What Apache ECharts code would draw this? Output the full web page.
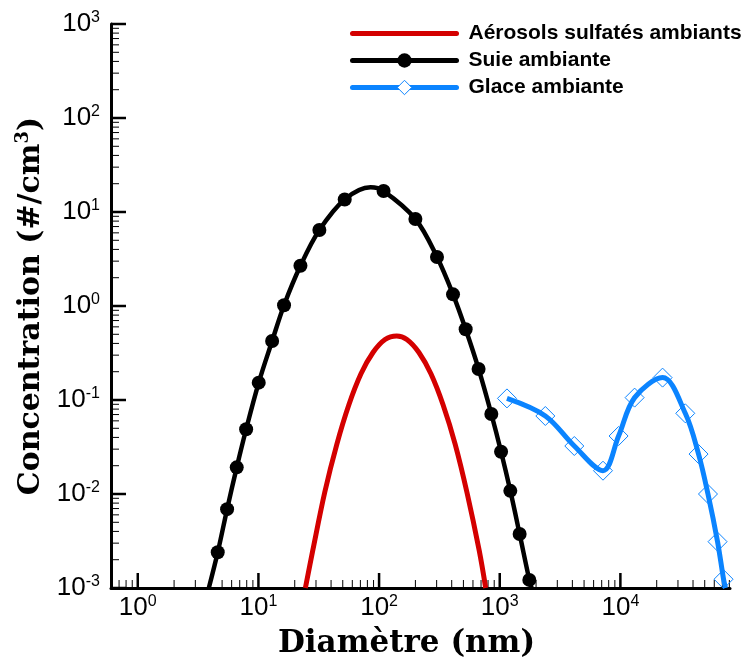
<!DOCTYPE html>
<html><head><meta charset="utf-8">
<script src="https://cdn.jsdelivr.net/npm/echarts@6/dist/echarts.min.js"></script>
<style>html,body{margin:0;padding:0;background:#fff}#c{width:749px;height:669px}</style>
</head><body><div id="c"></div>
<script>
// ---- data (diameter in nm, concentration in #/cm3) ----
const sulfName = 'Aérosols sulfatés ambiants';
const sulfX = [24.5, 28.2, 35.5, 44.7, 56.2, 70.8, 89, 112, 140, 170, 214, 269, 339, 427, 537, 676, 765];
const sulfY = [0.001, 0.0025, 0.0105, 0.034, 0.089, 0.19, 0.32, 0.44, 0.48, 0.44, 0.32, 0.19, 0.089, 0.034, 0.0102, 0.0025, 0.001];

const sootName = 'Suie ambiante';
const sootX = [3.88, 4.60, 5.50, 6.61, 7.91, 10.06, 12.99, 16.3, 22.3, 32.0, 51.9, 85, 109, 200, 302, 410, 522, 668, 852, 1026, 1224, 1462, 1759, 1837];
const sootY = [0.001, 0.0024, 0.0069, 0.0192, 0.0488, 0.153, 0.424, 1.02, 2.68, 6.43, 13.6, 18.3, 16.7, 8.43, 3.32, 1.33, 0.565, 0.214, 0.071, 0.0282, 0.0108, 0.00375, 0.00122, 0.001];
const sootMarked = [0, 1, 1, 1, 1, 1, 1, 1, 1, 1, 1, 0, 1, 1, 1, 1, 1, 1, 1, 1, 1, 1, 1, 0];

const iceName = 'Glace ambiante';
const iceX = [1148, 2388, 4150, 7175, 9660, 13120, 22370, 34500, 44440, 53200, 63870, 71620, 74300];
const iceY = [0.104, 0.0676, 0.0324, 0.0177, 0.0414, 0.106, 0.173, 0.0722, 0.0266, 0.0100, 0.00311, 0.00124, 0.001];
const iceMarked = [1, 1, 1, 1, 1, 1, 1, 1, 1, 1, 1, 1, 0];

const xTickExps = [0, 1, 2, 3, 4];
const yTickExps = [-3, -2, -1, 0, 1, 2, 3];
const xMin = 0.6, xMax = 81000, yMin = 0.001, yMax = 1000;
const xTitle = 'Diamètre (nm)';

// ---- helpers ----
function pts(xs, ys, marks) {
  return xs.map((x, i) => (marks && !marks[i]) ? { value: [x, ys[i]], symbol: 'none' } : [x, ys[i]]);
}
function expLabel(exps) {
  return function (v) {
    const l = Math.log10(v), e = Math.round(l);
    if (Math.abs(l - e) > 1e-6 || exps.indexOf(e) < 0) return '';
    return '{b|10}{s|' + e + '}';
  };
}
const labelRich = {
  b: { fontFamily: 'Liberation Sans', fontSize: 26, color: '#000', lineHeight: 28 },
  s: { fontFamily: 'Liberation Sans', fontSize: 16, color: '#000', lineHeight: 14, verticalAlign: 'top' }
};

// tick marks (major: type 0/1, minor: 2/3)
const tickData = [];
xTickExps.forEach(e => tickData.push([Math.pow(10, e), yMin, 0]));
yTickExps.forEach(e => tickData.push([xMin, Math.pow(10, e), 1]));
for (let e = -1; e <= 4; e++) for (let m = 2; m <= 9; m++) {
  const v = m * Math.pow(10, e);
  if (v > xMin && v < xMax) tickData.push([v, yMin, 2]);
}
for (let e = -3; e < 3; e++) for (let m = 2; m <= 9; m++) tickData.push([xMin, m * Math.pow(10, e), 3]);

const RED = '#d40000', BLUE = '#0b84ff';
const chart = echarts.init(document.getElementById('c'), null, { renderer: 'canvas' });
chart.setOption({
  animation: false,
  backgroundColor: '#fff',
  grid: { left: 111, right: 19, top: 24, bottom: 81 },
  legend: {
    orient: 'vertical', left: 350, top: 23, padding: 0, itemWidth: 104, itemHeight: 18, itemGap: 6,
    lineStyle: { width: 5, cap: 'round' },
    textStyle: { fontFamily: 'Liberation Sans', fontWeight: 'bold', fontSize: 21, color: '#000', lineHeight: 21, padding: [0, 0, 0, 7] },
    data: [
      { name: sulfName, itemStyle: { color: 'rgba(0,0,0,0)', borderWidth: 0 } },
      { name: sootName },
      { name: iceName, itemStyle: { color: '#fff', borderColor: BLUE, borderWidth: 1 } }
    ]
  },
  xAxis: {
    type: 'log', logBase: 10, min: xMin, max: xMax,
    name: xTitle, nameLocation: 'middle', nameGap: 40,
    nameTextStyle: { fontFamily: 'DejaVu Serif', fontWeight: 'bold', fontSize: 31, color: '#000', padding: [0, 28, 0, 0] },
    axisLine: { onZero: false, lineStyle: { color: '#000', width: 3 } },
    axisTick: { show: false },
    splitLine: { show: false },
    axisLabel: { margin: 6, formatter: expLabel(xTickExps), rich: labelRich, showMinLabel: false, showMaxLabel: false }
  },
  yAxis: {
    type: 'log', logBase: 10, min: yMin, max: yMax, splitNumber: 6,
    name: '{t|Concentration (#/cm}{s|3}{t|)}', nameLocation: 'middle', nameGap: 58,
    nameTextStyle: {
      rich: {
        t: { fontFamily: 'DejaVu Serif', fontWeight: 'bold', fontSize: 30, color: '#000', lineHeight: 34 },
        s: { fontFamily: 'DejaVu Serif', fontWeight: 'bold', fontSize: 18, color: '#000', lineHeight: 18, verticalAlign: 'top' }
      }
    },
    axisLine: { onZero: false, lineStyle: { color: '#000', width: 3 } },
    axisTick: { show: false },
    splitLine: { show: false },
    axisLabel: { margin: 11, formatter: expLabel(yTickExps), rich: labelRich }
  },
  series: [
    {
      type: 'custom', name: 'ticks', silent: true, z: 1,
      renderItem: function (params, api) {
        const t = api.value(2);
        const p = api.coord([api.value(0), api.value(1)]);
        const major = t < 2, len = major ? 15 : 8, horiz = (t === 1 || t === 3);
        return {
          type: 'line',
          shape: horiz ? { x1: p[0], y1: p[1], x2: p[0] + len, y2: p[1] } : { x1: p[0], y1: p[1], x2: p[0], y2: p[1] - len },
          style: { stroke: '#000', lineWidth: major ? 2.5 : 1 }
        };
      },
      data: tickData
    },
    {
      type: 'line', name: sulfName, data: pts(sulfX, sulfY), smooth: 0.35,
      symbol: 'none', lineStyle: { color: RED, width: 5 }, itemStyle: { color: RED }, z: 3
    },
    {
      type: 'line', name: sootName, data: pts(sootX, sootY, sootMarked), smooth: 0.35,
      symbol: 'circle', symbolSize: 14, showAllSymbol: true,
      lineStyle: { color: '#000', width: 4.5 }, itemStyle: { color: '#000' }, z: 4
    },
    {
      type: 'line', name: iceName, data: pts(iceX, iceY, iceMarked), smooth: 0.35,
      symbol: 'diamond', symbolSize: 19, showAllSymbol: true,
      lineStyle: { color: BLUE, width: 5 },
      itemStyle: { color: 'rgba(255,255,255,0)', borderColor: BLUE, borderWidth: 1 }, z: 5
    }
  ]
});
</script>
</body></html>
